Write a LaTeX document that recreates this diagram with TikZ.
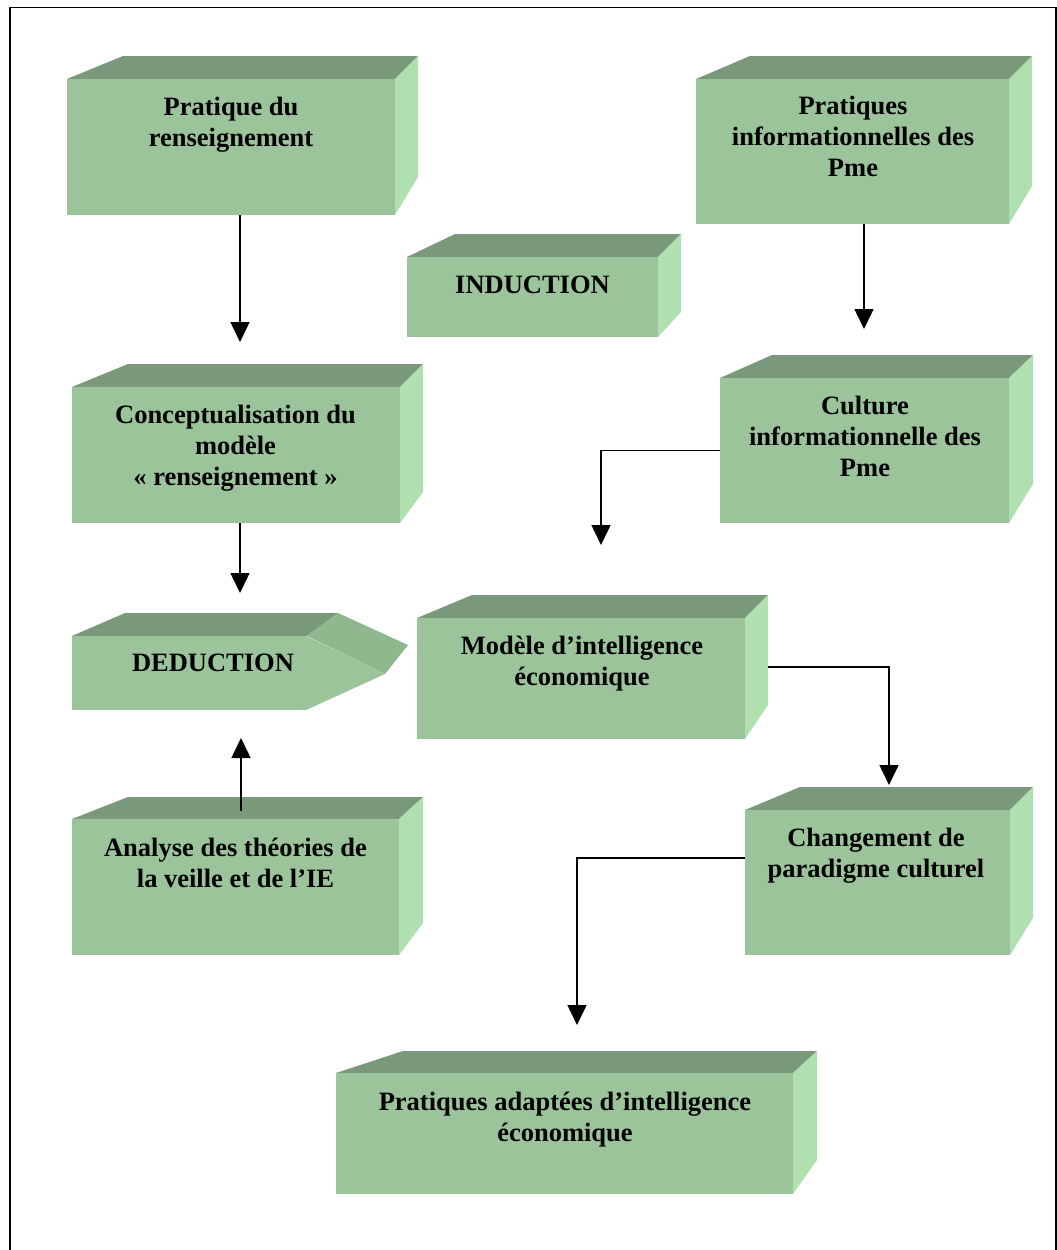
\documentclass[tikz,border=0pt]{standalone}
\usepackage{fontspec}
\setmainfont{Liberation Serif}
\usetikzlibrary{arrows.meta,calc}

\definecolor{frontgreen}{RGB}{155,196,155}
\definecolor{topgreen}{RGB}{122,152,122}
\definecolor{sidegreen}{RGB}{176,224,176}
\definecolor{facetgreen}{RGB}{143,184,143}

\tikzset{
  frontface/.style={fill=frontgreen, draw=none, inner sep=0pt, outer sep=0pt},
  topface/.style={fill=topgreen},
  sideface/.style={fill=sidegreen},
  lbl/.style={font=\bfseries\fontsize{26.5}{31}\selectfont, align=center,
              inner sep=0pt, anchor=north, text=black},
  flow/.style={line width=1.6pt, -{Triangle[width=19pt,length=20pt]}},
}

% 3D block: name, front x1 y1 x2 y2, back-left x, back y, back-right x, back-right bottom y
\newcommand{\blockcube}[9]{%
  \fill[topface] (#2,#3) -- (#6,#7) -- (#8,#7) -- (#4,#3) -- cycle;
  \fill[sideface] (#4,#3) -- (#8,#7) -- (#8,#9) -- (#4,#5) -- cycle;
  \node[frontface, minimum width={(#4-#2)*1pt}, minimum height={(#5-#3)*1pt}]
    (#1) at ({(#2+#4)/2},{(#3+#5)/2}) {};
}

\begin{document}
\begin{tikzpicture}[x=1pt, y=-1pt]
\useasboundingbox (0,0) rectangle (1057,1250);
\fill[white] (0,0) rectangle (1057,1250);
\draw[line width=1.8pt] (10,7.5) rectangle (1056,1265);

% blocks
\blockcube{A}{67}{79}{395}{215}{123}{56}{418}{177}
\blockcube{B}{696}{79}{1009}{224}{750}{56}{1032}{186}
\blockcube{N}{407}{257}{658}{337}{455}{234}{681}{312}
\blockcube{C}{72}{387}{400}{523}{128}{364}{423}{492}
\blockcube{E}{72}{819}{399}{955}{128}{797}{423}{923}
\blockcube{F}{720}{378}{1009}{523}{772}{355}{1033}{484}
\blockcube{G}{417}{618}{745}{739}{472}{595}{768}{705}
\blockcube{H}{745}{810}{1010}{955}{800}{787}{1033}{918}
\blockcube{I}{336}{1073}{793}{1194}{403}{1051}{817}{1160}

% pointed block
\fill[topface] (72,636) -- (125,613) -- (338,613) -- (307,636) -- cycle;
\fill[facetgreen] (307,636) -- (338,613) -- (408,645) -- (385,674) -- cycle;
\fill[frontgreen] (306,636) -- (385,674) -- (306,710) -- cycle;
\node[frontface, minimum width=235pt, minimum height=74pt] (D) at (189.5,673) {};

% labels
\node[lbl] (A-t) at (231,97) {Pratique du\\renseignement};
\node[lbl] (B-t) at (853,96) {Pratiques\\informationnelles des\\Pme};
\node[lbl] (N-t) at (532.5,275.5) {INDUCTION};
\node[lbl] (C-t) at (235.5,405) {Conceptualisation du\\modèle\\« renseignement »};
\node[lbl] (D-t) at (213,654) {DEDUCTION};
\node[lbl] (E-t) at (235.5,838) {Analyse des théories de\\la veille et de l’IE};
\node[lbl] (F-t) at (865,396) {Culture\\informationnelle des\\Pme};
\node[lbl] (G-t) at (582,636) {Modèle d’intelligence\\économique};
\node[lbl] (H-t) at (876,828) {Changement de\\paradigme culturel};
\node[lbl] (I-t) at (565,1092) {Pratiques adaptées d’intelligence\\économique};

% connectors
\draw[flow] ($(A.south)+(9,0)$) -- ($(C.north)+(4,-45)$);
\draw[flow] ($(C.south)+(4,0)$) -- ($(D.north)+(50.5,-43)$);
\draw[flow] ($(E.north)+(5.5,-8)$) -- ($(D.south)+(51.5,28)$);
\draw[flow] ($(B.south)+(11.5,0)$) -- ($(F.north)+(-0.5,-49)$);
\draw[flow] (F.west) -| ($(G.north)+(20,-73)$);
\draw[flow] ($(G.east)+(23,-11.5)$) -| ($(H.north)+(11.5,-25)$);
\draw[flow] ($(H.west)+(0,-24.5)$) -| ($(I.north)+(12.5,-48)$);
\end{tikzpicture}
\end{document}
